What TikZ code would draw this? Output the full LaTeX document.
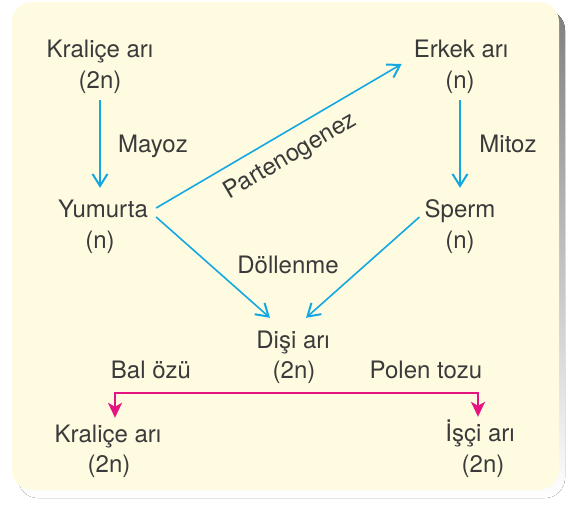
\documentclass[tikz,border=0pt]{standalone}
\usepackage{fontspec}
\setmainfont{TeX Gyre Heros}
\usetikzlibrary{arrows.meta,calc}

\definecolor{beeblue}{RGB}{20,168,226}
\definecolor{beepink}{RGB}{228,20,128}
\definecolor{paper}{RGB}{254,251,225}
\definecolor{shade}{RGB}{198,198,200}
\definecolor{ink}{RGB}{58,58,58}

\tikzset{
	lbl/.style={font=\fontsize{24}{28}\selectfont, text=ink, inner sep=0pt,
		text height=17pt, text depth=5pt, anchor=base},
	bluearrow/.style={draw=beeblue, line width=1.6pt,
		-{Straight Barb[length=12pt,width=15pt,line width=2pt]}},
	pinkline/.style={draw=beepink, line width=2.2pt,
		{Stealth[length=15pt,width=14pt,inset=4pt]}-{Stealth[length=15pt,width=14pt,inset=4pt]}}
}

\begin{document}
\begin{tikzpicture}[x=1pt,y=-1pt]
			%%%%% START %%%%%
			\useasboundingbox (0,0) rectangle (572,504);
			
			% card and its shadow
			\fill[shade, rounded corners=20pt] (18,10) rectangle (565,498);
			\fill[paper, rounded corners=20pt] (12,2) rectangle (559,490);
			
			% top row
			\node[lbl] (kr1) at (100,57) {Kraliçe arı};
			\node[lbl] (kr1n) at (100,88) {(2n)};
			\node[lbl] (erk) at (461,57) {Erkek arı};
			\node[lbl] (erkn) at (460,88) {(n)};
			
			\node[lbl] (mayoz) at (153,152) {Mayoz};
			\node[lbl] (mitoz) at (508,152) {Mitoz};
			
			% gametes
			\node[lbl] (yum) at (103,217) {Yumurta};
			\node[lbl] (yumn) at (100,248) {(n)};
			\node[lbl] (sperm) at (460,217) {Sperm};
			\node[lbl] (spermn) at (460,248) {(n)};
			
			\node[lbl] (dol) at (288,273) {Döllenme};
			
			% female
			\node[lbl] (disi) at (293,348) {Dişi arı};
			\node[lbl] (disin) at (294,378) {(2n)};
			
			\node[lbl] (bal) at (151,378) {Bal özü};
			\node[lbl] (polen) at (426,378) {Polen tozu};
			
			% bottom row
			\node[lbl] (kr2) at (108,442) {Kraliçe arı};
			\node[lbl] (kr2n) at (109,472) {(2n)};
			\node[lbl] (isci) at (480,441) {İşçi arı};
			\node[lbl] (iscin) at (483,472) {(2n)};
			
			% blue arrows
			\draw[bluearrow, shorten <=7pt, shorten >=12pt] (kr1n.south) -- (kr1n.south |- yum.north);
			\draw[bluearrow, shorten <=7pt, shorten >=12pt] (erkn.south) -- (erkn.south |- sperm.north);
			\draw[bluearrow] ($(yum.east)+(8,-3)$) -- ($(erk.west)+(-12,13)$)
				node[lbl, midway, sloped, anchor=north, yshift=-12pt] (parten) {Partenogenez};
			\draw[bluearrow] ($(yum.east)+(8,6)$) -- ($(disi.north)+(-23,-13)$);
			\draw[bluearrow] ($(sperm.west)+(-5,6)$) -- ($(disi.north)+(13,-13)$);
			
			% pink branch
			\draw[pinkline] ([xshift=7pt,yshift=7pt]kr2.north) -- ++(0,-25) -| ([xshift=-2pt,yshift=7pt]isci.north);
			
			%%%%% END %%%%%
\end{tikzpicture}
\end{document}
